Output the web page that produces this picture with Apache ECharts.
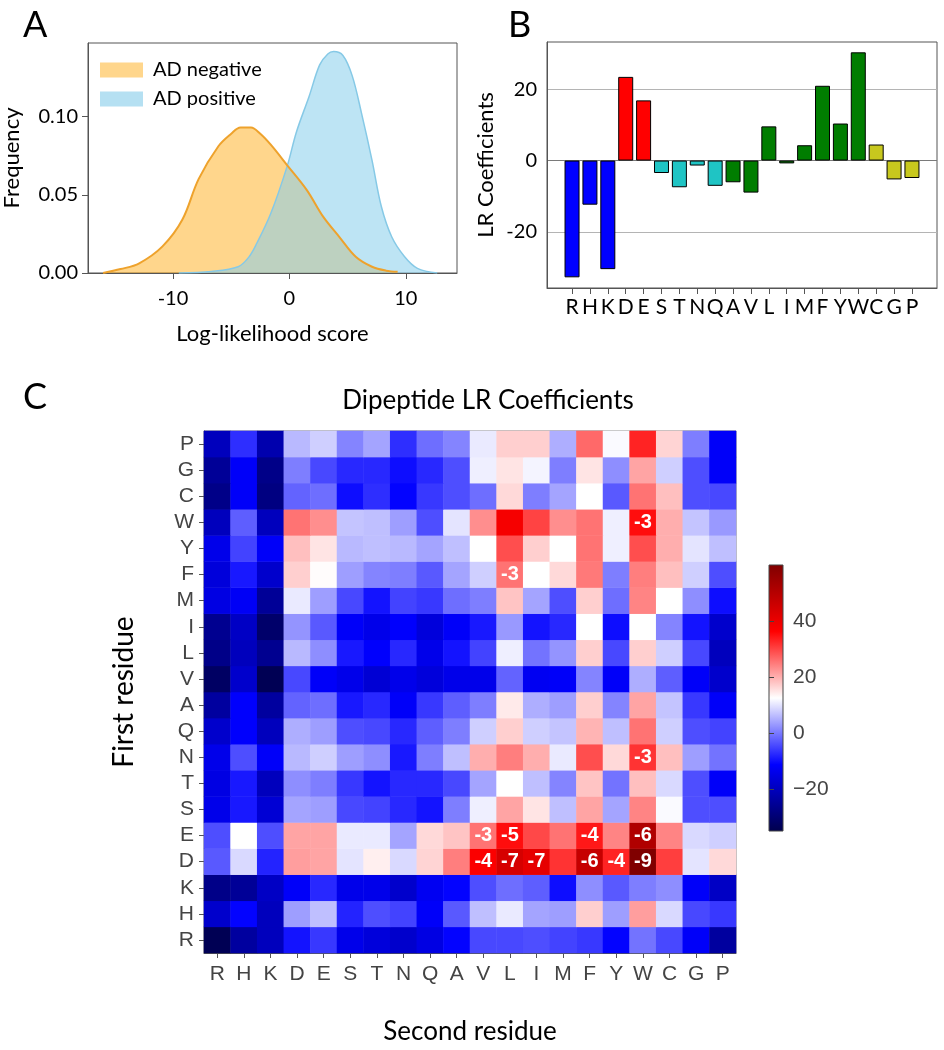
<!DOCTYPE html>
<html>
<head>
<meta charset="utf-8">
<script src="https://cdn.jsdelivr.net/npm/echarts@6/dist/echarts.min.js"></script>
<style>
html, body { margin: 0; padding: 0; background: #fff; }
#main { width: 944px; height: 1050px; }
</style>
</head>
<body>
<div id="main"></div>
<script>
// A: log-likelihood score densities
var negScore = [-16.0, -14.5, -12.9, -10.9, -9.2, -7.8, -6.1, -5.0, -4.2, -3.3, -2.5, -1.6, -0.2, 1.5, 2.9, 4.3, 5.7, 7.1, 8.3, 9.3];
var negFreq = [0.000, 0.0025, 0.0062, 0.017, 0.034, 0.060, 0.081, 0.089, 0.093, 0.093, 0.089, 0.082, 0.069, 0.053, 0.036, 0.023, 0.0104, 0.004, 0.0015, 0.0008];
var posScore = [-9.5, -6.7, -4.4, -3.5, -2.8, -1.6, -0.2, 0.6, 1.7, 2.6, 3.3, 3.8, 4.6, 5.4, 6.2, 7.1, 7.9, 8.8, 9.9, 11.0, 12.7];
var posFreq = [0.000, 0.001, 0.004, 0.010, 0.019, 0.038, 0.068, 0.090, 0.113, 0.133, 0.140, 0.1415, 0.139, 0.126, 0.102, 0.072, 0.0425, 0.023, 0.0104, 0.003, 0.000];
var aTicksX = [-10, 0, 10];
var aTicksY = [0, 0.05, 0.10];

// B: single residue LR coefficients
var residues = ['R', 'H', 'K', 'D', 'E', 'S', 'T', 'N', 'Q', 'A', 'V', 'L', 'I', 'M', 'F', 'Y', 'W', 'C', 'G', 'P'];
var lrCoef = [-32.8, -12.4, -30.5, 23.5, 16.9, -3.5, -7.5, -1.4, -7.1, -6.1, -9.0, 9.6, -0.8, 4.3, 21.0, 10.4, 30.4, 4.5, -5.3, -4.9];
var residueGroup = ['basic', 'basic', 'basic', 'acidic', 'acidic', 'polar', 'polar', 'polar', 'polar',
    'hydrophobic', 'hydrophobic', 'hydrophobic', 'hydrophobic', 'hydrophobic', 'hydrophobic', 'hydrophobic', 'hydrophobic',
    'special', 'special', 'special'];
var groupColor = { basic: '#0000ff', acidic: '#ff0000', polar: '#1fc4c4', hydrophobic: '#007d00', special: '#c8c81e' };
var bTicksY = [-20, 0, 20];

// C: dipeptide LR coefficients, one row per first residue, columns = second residue (R..P)
var dipeptide = {
    R: [-34, -24, -20, -9.5, -6, -14, -16, -18, -15, -11, -4.5, -4.5, -4, -5, -6, -11, -0.5, -4.5, -12, -24],
    H: [-18, -11, -20, 3.5, 6.5, -8, -4, -5, -12, -3, 6.5, 10.5, 4, 3.5, 17, 3.5, 21.5, 9, -4.5, -6],
    K: [-27, -25, -19, -12, -7.5, -14, -14, -18, -13, -11, -4, -1, -2.5, -10, 2, -3, 0.5, 2, -12, -19],
    D: [-3, 9, -8, 21.5, 21, 10, 14, 9, 16.5, 24.5, 37, 44, 41, 31.5, 47, 33, 60, 30.5, 10, 16],
    E: [-4, 12.5, -4, 21, 21, 10.5, 10.5, 4, 16, 18, 25.5, 35, 29.5, 25.5, 34, 24, 51, 24, 9, 8],
    S: [-14, -9, -17, 4, 3.5, -4.5, -5, -7.5, -9.5, 0.5, 11, 21, 15, 6.5, 21, 4, 24, 12, -4, -4],
    T: [-15, -9, -20, 2, 0.5, -6, -9.5, -7.5, -7.5, -4.5, 4, 12.5, 6.5, 1, 18, -0.5, 18.5, 9, -4, -12],
    N: [-14, -4, -12, 6, 8, 3.5, 2, -9, 0.5, 6.5, 20, 24.5, 20, 10.5, 29, 16, 31.5, 18.5, 3.5, -0.5],
    Q: [-18, -11.5, -20, 5, 3.5, -4, -4.5, -7.5, -2.5, 0.5, 8, 17, 8, 7, 19.5, 6.5, 25.5, 8, -4, -5],
    A: [-24, -11.5, -24, -2, -1, -9, -7.5, -12, -6, -2.5, 0.5, 14.5, 5, 3.5, 17, 1, 21, 7, -6, -12],
    V: [-32, -18, -34, -4.5, -12, -14, -17, -14, -16, -14, -14, -2, -13, -12, 1, -12, 5, -2.5, -12, -18],
    L: [-27, -20, -26, 6, 2, -9, -11.5, -7.5, -14, -9.5, -5, 11, -0.5, 2.5, 17, -4.5, 17, 8, -4.5, -20],
    I: [-26, -19, -31, 2.5, -3, -12, -14, -11.5, -16, -12, -9, 3, -9.5, -7.5, 12.5, -10, 12.5, 1, -9.5, -18],
    M: [-15, -12.5, -25, 10.5, 3.5, -4.5, -9.5, -5, -6, -1, 0.5, 18, 4, -4, 17, -1, 24, 12.5, 2, -10],
    F: [-16, -9, -18, 17, 12.8, 3.5, 1, 0.5, -3, 4, 8, 25.5, 12.5, 16, 25, 0.5, 24.5, 18.5, 8, -4],
    Y: [-14, -5, -12, 18.5, 15, 6, 6.5, 6, 4, 6.5, 12.5, 29, 17, 12.5, 25.5, 11, 29, 20, 10, 6.5],
    W: [-20, -2.5, -20, 25.5, 23, 7, 6.5, 3.5, -4, 10, 23, 38, 30, 23, 25.5, 11, 35, 20, 7, 3],
    C: [-27, -12, -28, -2, -1, -10, -7, -11, -6, -4, -1, 16, 0.5, 4, 12.5, -3, 25.5, 18.5, -4, -4.5],
    G: [-25, -12, -27, 0.5, -4.5, -7.5, -7.5, -10, -7.5, -4, 11, 15, 11.5, 0.5, 15, 2, 21, 8, -4, -12],
    P: [-20, -7, -22, 6, 8, 1, 4, -7, -1, 1, 10.5, 17, 17, 5, 26.5, 12, 33, 16.5, 0.5, -12]
};
// significance exponents written on cells: [second residue, first residue, text]
var pvalExp = [
    ['W', 'W', '-3'], ['L', 'F', '-3'], ['W', 'N', '-3'],
    ['V', 'E', '-3'], ['L', 'E', '-5'], ['F', 'E', '-4'], ['W', 'E', '-6'],
    ['V', 'D', '-4'], ['L', 'D', '-7'], ['I', 'D', '-7'], ['F', 'D', '-6'], ['Y', 'D', '-4'], ['W', 'D', '-9']
];
var cbarMin = -35, cbarMax = 60;
var cbarTicks = [-20, 0, 20, 40];

var chart = echarts.init(document.getElementById('main'));

var negData = negScore.map(function (x, i) { return [x, negFreq[i]]; });
var posData = posScore.map(function (x, i) { return [x, posFreq[i]]; });

var barData = residues.map(function (r, i) {
    return { value: [i, lrCoef[i]], itemStyle: { color: groupColor[residueGroup[i]] } };
});
var residueIdx = residues.map(function (r, i) { return i; });

var heatData = [];
residues.forEach(function (first, yi) {
    dipeptide[first].forEach(function (v, xi) {
        heatData.push([xi, yi, v]);
    });
});
var expLookup = {};
pvalExp.forEach(function (p) { expLookup[p[0] + p[1]] = p[2]; });

var sans = 'Lato';
var arial = 'Liberation Sans';

var option = {
    backgroundColor: '#fff',
    animation: false,
    title: [
        { text: 'A', left: 18, top: 2, textStyle: { fontSize: 36, fontWeight: 'normal', fontFamily: sans, color: '#000' } },
        { text: 'B', left: 503, top: 2, textStyle: { fontSize: 36, fontWeight: 'normal', fontFamily: sans, color: '#000' } },
        { text: 'C', left: 18, top: 374, textStyle: { fontSize: 36, fontWeight: 'normal', fontFamily: sans, color: '#000' } },
        { text: 'Dipeptide LR Coefficients', left: 483, top: 383, textAlign: 'center',
          textStyle: { fontSize: 26, fontWeight: 'normal', fontFamily: sans, color: '#000' } }
    ],
    legend: {
        data: [
            { name: 'AD negative', itemStyle: { color: '#ffd68c', borderWidth: 0 } },
            { name: 'AD positive', itemStyle: { color: '#b5e0f2', borderWidth: 0 } }
        ],
        orient: 'vertical',
        left: 100,
        top: 60,
        padding: 0,
        icon: 'rect',
        itemWidth: 43,
        itemHeight: 15,
        itemGap: 9,
        textStyle: { fontSize: 20, fontFamily: sans, color: '#000', lineHeight: 20, padding: [0, 0, 0, 5] }
    },
    visualMap: {
        show: false,
        type: 'continuous',
        min: cbarMin,
        max: cbarMax,
        seriesIndex: 4,
        inRange: { color: ['#00004c', '#0000ff', '#ffffff', '#ff0000', '#800000'] }
    },
    grid: [
        { left: 82, top: 43, width: 375, height: 230, show: true, borderColor: '#555', borderWidth: 1 },
        { left: 547, top: 42, width: 390, height: 246, show: true, borderColor: '#555', borderWidth: 1 },
        { left: 204, top: 431, width: 532, height: 532, show: true, borderColor: '#777', borderWidth: 1 },
        { left: 769, top: 565, width: 14, height: 266, show: true, borderColor: '#444', borderWidth: 1,
          backgroundColor: new echarts.graphic.LinearGradient(0, 0, 0, 1, [
              { offset: 0, color: '#800000' },
              { offset: 0.25, color: '#ff0000' },
              { offset: 0.5, color: '#ffffff' },
              { offset: 0.75, color: '#0000ff' },
              { offset: 1, color: '#00004c' }
          ]) }
    ],
    xAxis: [
        {
            gridIndex: 0, type: 'value', min: -17.3, max: 14.4,
            axisLine: { show: true, onZero: false, lineStyle: { color: '#555' } },
            axisTick: { show: true, customValues: aTicksX, length: 6, lineStyle: { color: '#555' } },
            axisLabel: { customValues: aTicksX, margin: 16, fontSize: 20, fontFamily: sans, color: '#000' },
            splitLine: { show: false },
            name: 'Log-likelihood score', nameLocation: 'middle', nameGap: 50,
            nameTextStyle: { fontSize: 22, fontFamily: sans, color: '#000' }
        },
        {
            gridIndex: 1, type: 'value', min: -1.4, max: 20.4,
            axisLine: { show: true, onZero: false, lineStyle: { color: '#555' } },
            axisTick: { show: true, customValues: residueIdx, length: 6, lineStyle: { color: '#555' } },
            axisLabel: {
                customValues: residueIdx, margin: 9, fontSize: 21, fontFamily: sans, color: '#000',
                formatter: function (v) { return residues[Math.round(v)]; }
            },
            splitLine: { show: false }
        },
        {
            gridIndex: 2, type: 'category', data: residues,
            axisLine: { show: true, lineStyle: { color: '#555' } },
            axisTick: { show: true, alignWithLabel: true, length: 5, lineStyle: { color: '#555' } },
            axisLabel: { interval: 0, margin: 11, fontSize: 21, fontFamily: arial, color: '#444' },
            splitLine: { show: false },
            name: 'Second residue', nameLocation: 'middle', nameGap: 66,
            nameTextStyle: { fontSize: 26, fontFamily: sans, color: '#000' }
        },
        { gridIndex: 3, type: 'value', min: 0, max: 1, show: false }
    ],
    yAxis: [
        {
            gridIndex: 0, type: 'value', min: 0, max: 0.147,
            axisLine: { show: true, onZero: false, lineStyle: { color: '#555' } },
            axisTick: { show: true, customValues: aTicksY, length: 6, lineStyle: { color: '#555' } },
            axisLabel: {
                customValues: aTicksY, margin: 10, fontSize: 20, fontFamily: sans, color: '#000',
                formatter: function (v) { return v.toFixed(2); }
            },
            splitLine: { show: false },
            name: 'Frequency', nameLocation: 'middle', nameGap: 65,
            nameTextStyle: { fontSize: 22, fontFamily: sans, color: '#000' }
        },
        {
            gridIndex: 1, type: 'value', min: -35.8, max: 33.3,
            axisLine: { show: true, onZero: false, lineStyle: { color: '#555' } },
            axisTick: { show: false, customValues: bTicksY },
            axisLabel: { customValues: bTicksY, margin: 10, fontSize: 20, fontFamily: sans, color: '#000' },
            splitLine: { show: true, lineStyle: { color: ['#b4b4b4', '#7a7a7a', '#b4b4b4'], width: 1 } },
            name: 'LR Coefficients', nameLocation: 'middle', nameGap: 50,
            nameTextStyle: { fontSize: 22, fontFamily: sans, color: '#000' }
        },
        {
            gridIndex: 2, type: 'category', data: residues,
            axisLine: { show: true, onZero: false, lineStyle: { color: '#555' } },
            axisTick: { show: true, alignWithLabel: true, length: 5, lineStyle: { color: '#555' } },
            axisLabel: { interval: 0, margin: 10, fontSize: 21, fontFamily: arial, color: '#444' },
            splitLine: { show: false },
            name: 'First residue', nameLocation: 'middle', nameGap: 66,
            nameTextStyle: { fontSize: 28, fontFamily: sans, color: '#000' }
        },
        {
            gridIndex: 3, type: 'value', min: cbarMin, max: cbarMax, position: 'right',
            axisLine: { show: false },
            axisTick: { show: true, customValues: cbarTicks, length: 5, lineStyle: { color: '#444' } },
            axisLabel: {
                customValues: cbarTicks, margin: 10, fontSize: 21, fontFamily: arial, color: '#444',
                formatter: function (v) { return String(v).replace('-', '\u2212'); }
            },
            splitLine: { show: false }
        }
    ],
    series: [
        {
            name: 'AD negative', type: 'line', xAxisIndex: 0, yAxisIndex: 0,
            data: negData, smooth: 0.35, showSymbol: false,
            lineStyle: { width: 0 },
            areaStyle: { color: 'rgba(255,165,0,0.45)', opacity: 1 }
        },
        {
            name: 'AD positive', type: 'line', xAxisIndex: 0, yAxisIndex: 0,
            data: posData, smooth: 0.35, showSymbol: false,
            lineStyle: { width: 1.5, color: '#86c9e6' },
            itemStyle: { color: '#86c9e6' },
            areaStyle: { color: 'rgba(135,206,235,0.55)', opacity: 1 }
        },
        {
            name: 'AD negative', type: 'line', xAxisIndex: 0, yAxisIndex: 0,
            data: negData, smooth: 0.35, showSymbol: false,
            lineStyle: { width: 2, color: '#eea22c' },
            itemStyle: { color: '#eea22c' }
        },
        {
            type: 'bar', xAxisIndex: 1, yAxisIndex: 1,
            data: barData, barWidth: 15,
            itemStyle: { borderColor: '#000', borderWidth: 1 }
        },
        {
            type: 'heatmap', xAxisIndex: 2, yAxisIndex: 2,
            data: heatData,
            label: {
                show: true, color: '#fff', fontSize: 20, fontWeight: 'bold', fontFamily: arial,
                formatter: function (p) {
                    var k = residues[p.value[0]] + residues[p.value[1]];
                    return expLookup[k] || '';
                }
            },
            emphasis: { disabled: true }
        }
    ]
};
chart.setOption(option);
</script>
</body>
</html>
